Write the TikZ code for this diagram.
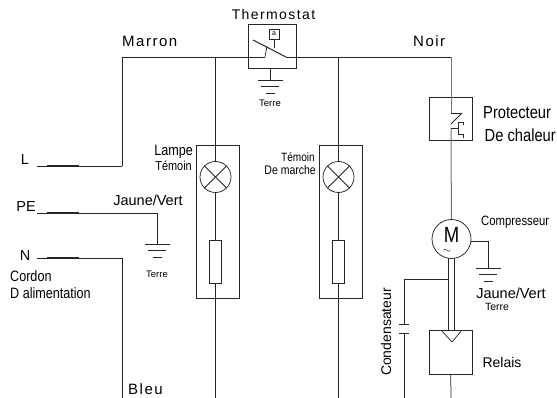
\documentclass[tikz,border=0pt]{standalone}
\usepackage{fontspec}
\setmainfont{Liberation Sans}
\newfontfamily\narrowfont[FakeStretch=0.84]{Liberation Sans}
\newfontfamily\widefont[LetterSpace=10]{Liberation Sans}
\usetikzlibrary{arrows}
\usetikzlibrary{shapes, positioning}
\tikzset{
  wire/.style={line width=0.75pt, draw=black!85},
  greywire/.style={line width=1pt, draw=black!55},
  lead/.style={line width=1.5pt, draw=black!85},
  lab/.style={inner sep=0pt, font=\fontsize{14.5}{16}\selectfont},
  wid/.style={inner sep=0pt, font=\widefont\fontsize{15}{16}\selectfont},
  nar/.style={inner sep=0pt, font=\narrowfont\fontsize{15}{16}\selectfont},
  small/.style={inner sep=0pt, font=\fontsize{9.5}{10}\selectfont},
  lamp/.style={draw=black!85, line width=0.75pt, circle, inner sep=0pt, minimum size=#1},
  res/.style={draw=black!85, line width=0.75pt, rectangle, inner sep=0pt, minimum width=12pt, minimum height=43pt},
  frame/.style={draw=black!85, line width=0.75pt, rectangle, inner sep=0pt, minimum width=#1},
}
\newcommand{\earth}[1]{
  \draw[wire] ([xshift=-12.5pt]#1) -- ([xshift=12.5pt]#1);
  \draw[wire] ([xshift=-9pt,yshift=-6.5pt]#1) -- ([xshift=9pt,yshift=-6.5pt]#1);
  \draw[wire] ([xshift=-4.5pt,yshift=-13pt]#1) -- ([xshift=4.5pt,yshift=-13pt]#1);
}
\begin{document}
\begin{tikzpicture}[x=1pt,y=-1pt]
\useasboundingbox (0,0) rectangle (557,398);

\node[frame=48pt, minimum height=44pt] (TH) at (272,46) {};
\node[frame=10pt, minimum height=10pt] (TS) at (274,34) {};
\node[inner sep=0pt, font=\fontsize{7}{7}\selectfont] (tTS) at (274,34) {a};
\node[frame=43pt, minimum height=153pt] (B1) at (217.5,221.5) {};
\node[frame=43pt, minimum height=153pt] (B2) at (340.5,221.5) {};
\node[frame=43pt, minimum height=43pt] (PR) at (450.5,118.5) {};
\node[frame=43pt, minimum height=44pt] (RE) at (450.5,352) {};
\node[lamp=31pt] (L1) at (215.5,177) {};
\node[lamp=31pt] (L2) at (338.5,177) {};
\node[res] (R1) at (215.5,261.5) {};
\node[res] (R2) at (338.5,261.5) {};
\node[lamp=39pt] (M) at (451.5,239) {};

\coordinate (LA) at (37,166);
\coordinate (LB) at (47,166);
\coordinate (LC) at (79,166);
\coordinate (LD) at (122,166);
\coordinate (TL) at (122,57);
\coordinate (SA) at (265,57);
\coordinate (SB) at (267,46);
\coordinate (SC) at (253,40);
\coordinate (SD) at (286,57);
\coordinate (SE) at (274,48);
\coordinate (J1) at (215.5,57);
\coordinate (J2) at (338.5,57);
\coordinate (TR) at (451,57);
\coordinate (E1) at (215.5,398);
\coordinate (E2) at (338.5,398);
\coordinate (GT) at (270,80);
\coordinate (PA) at (37,213);
\coordinate (PB) at (47,213);
\coordinate (PC) at (79,213);
\coordinate (PD) at (157,213);
\coordinate (GP) at (157,244);
\coordinate (NA) at (37,258);
\coordinate (NB) at (47,258);
\coordinate (NC) at (79,258);
\coordinate (ND) at (122,258);
\coordinate (NE) at (122,398);
\coordinate (KA) at (451,113);
\coordinate (KK) at (462,113);
\coordinate (KC) at (451,124);
\coordinate (KD) at (451,128);
\coordinate (KE) at (458,128);
\coordinate (KF) at (458,122);
\coordinate (KG) at (463,122);
\coordinate (KL) at (463,125);
\coordinate (KH) at (458,134);
\coordinate (KI) at (463,134);
\coordinate (KJ) at (463,138);
\coordinate (MA) at (448,258);
\coordinate (MB) at (454.5,258);
\coordinate (MC) at (448,330);
\coordinate (MD) at (454.5,330);
\coordinate (MG) at (471,241);
\coordinate (MH) at (488,241);
\coordinate (GM) at (488,268);
\coordinate (CJ) at (448,279);
\coordinate (CA) at (404,279);
\coordinate (CB) at (404,324);
\coordinate (CC) at (404,333);
\coordinate (CD) at (404,398);
\coordinate (CE) at (399,324);
\coordinate (CF) at (409,324);
\coordinate (CG) at (399,333);
\coordinate (CH) at (409,333);
\coordinate (EM) at (451,398);
\coordinate (TA) at (441,330);
\coordinate (TB) at (462,330);
\coordinate (TC) at (452,342);

\draw[wire] (LA) to (LD);
\draw[lead] (LB) to (LC);
\draw[wire] (LD) to (TL);
\draw[wire] (TL) to (SA);
\draw[wire] (SA) to (SB);
\draw[line width=1pt, black!85] (SC) to (SD);
\draw[wire] (TS) to (SE);
\draw[wire] (SD) to (TR);
\draw[wire] (TH.south -| GT) to (GT);
\draw[wire] (J1) to (L1);
\draw[wire] (L1) to (R1);
\draw[wire] (R1) to (E1);
\draw[wire] (J2) to (L2);
\draw[wire] (L2) to (R2);
\draw[wire] (R2) to (E2);
\draw[wire] (L1.45) to (L1.225);
\draw[wire] (L1.135) to (L1.315);
\draw[wire] (L2.45) to (L2.225);
\draw[wire] (L2.135) to (L2.315);
\draw[wire] (PA) to (PD);
\draw[lead] (PB) to (PC);
\draw[wire] (PD) to (GP);
\draw[wire] (NA) to (ND);
\draw[lead] (NB) to (NC);
\draw[wire] (ND) to (NE);
\draw[greywire] (TR) to (KA);
\draw[wire] (KA) to (KK);
\draw[wire] (KK) to (KC);
\draw[greywire] (KD) to (M);
\draw[wire] (KD) to (KE);
\draw[wire] (KF) to (KH);
\draw[wire] (KF) to (KG);
\draw[wire] (KG) to (KL);
\draw[wire] (KH) to (KI);
\draw[wire] (KI) to (KJ);
\draw[wire] (MA) to (MC);
\draw[wire] (MB) to (MD);
\draw[wire] (TA) to (TC);
\draw[wire] (TB) to (TC);
\draw[wire] (RE) to (EM);
\draw[wire] (MG) to (MH);
\draw[wire] (MH) to (GM);
\draw[wire] (CJ) to (CA);
\draw[wire] (CA) to (CB);
\draw[wire] (CC) to (CD);
\draw[wire] (CE) to (CF);
\draw[wire] (CG) to (CH);
\earth{GT}
\earth{GP}
\earth{GM}

\node[wid, font=\widefont\fontsize{14}{16}\selectfont] (tT) at (273.5,14) {Thermostat};
\node[wid, anchor=west] (tMa) at (122,41) {Marron};
\node[wid, anchor=west] (tNo) at (413,41) {Noir};
\node[small] (tG1) at (270,103) {Terre};
\node[lab] (tL) at (25,160) {L};
\node[lab] (tPE) at (26,207) {PE};
\node[lab] (tN) at (25,256) {N};
\node[lab] (tJ1) at (148,200) {Jaune/Vert};
\node[small] (tG2) at (157,274) {Terre};
\node[nar, anchor=west] (tC1) at (10,276) {Cordon};
\node[nar, anchor=west] (tC2) at (10,293) {D alimentation};
\node[wid, anchor=west] (tB) at (128,389) {Bleu};
\node[nar, anchor=east] (tLa) at (193,152) {Lampe};
\node[nar, anchor=east, font=\narrowfont\fontsize{13}{14}\selectfont] (tTe) at (192,166) {Témoin};
\node[nar, anchor=east, font=\narrowfont\fontsize{12}{14}\selectfont] (tTm) at (315,157) {Témoin};
\node[nar, anchor=east, font=\narrowfont\fontsize{12.5}{14}\selectfont] (tDm) at (316,170) {De marche};
\node[nar, anchor=west, font=\narrowfont\fontsize{17.5}{18}\selectfont] (tP1) at (483,113) {Protecteur};
\node[nar, anchor=west, font=\narrowfont\fontsize{17.5}{18}\selectfont] (tP2) at (484.5,135) {De chaleur};
\node[nar, anchor=west, font=\narrowfont\fontsize{13.5}{14}\selectfont] (tCo) at (481,222) {Compresseur};
\node[inner sep=0pt, font=\narrowfont\fontsize{22}{22}\selectfont] (tM) at (451.5,234.5) {M};
\node[inner sep=0pt, font=\fontsize{11}{11}\selectfont] (tS) at (447,251) {$\sim$};
\node[lab] (tJ2) at (511,293) {Jaune/Vert};
\node[small, font=\fontsize{10.5}{11}\selectfont] (tG3) at (497,307) {Terre};
\node[lab, font=\fontsize{14}{16}\selectfont] (tR) at (502,362) {Relais};
\node[lab, font=\fontsize{14}{16}\selectfont, rotate=90] (tCn) at (386,332) {Condensateur};
\end{tikzpicture}
\end{document}
